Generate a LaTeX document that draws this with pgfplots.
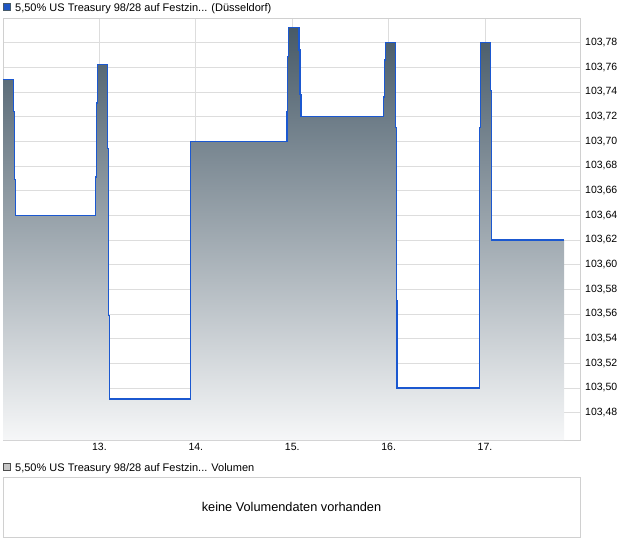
\documentclass[border=0pt]{standalone}
\usepackage{pgfplots}
\pgfplotsset{compat=1.18}
\usepackage{fontspec}
\setmainfont{Liberation Sans}
\definecolor{gridc}{HTML}{DDDDDD}
\definecolor{framec}{HTML}{D0D0D0}
\definecolor{linec}{HTML}{1B58D0}
\definecolor{topc}{HTML}{475A68}
\definecolor{botc}{HTML}{F6F7F8}
\definecolor{legblue}{HTML}{1F56C3}
\pgfplotstableread{
x y
12.000 103.75
12.107 103.724
12.119 103.669
12.127 103.64
12.959 103.671
12.969 103.731
12.979 103.762
13.085 103.694
13.091 103.559
13.102 103.491
13.943 103.70
14.946 103.724
14.955 103.769
14.964 103.792
15.070 103.774
15.081 103.738
15.091 103.72
15.943 103.736
15.953 103.766
15.964 103.78
16.069 103.711
16.080 103.571
16.086 103.50
16.940 103.571
16.946 103.711
16.957 103.78
17.060 103.741
17.070 103.62
17.819 103.62
}\pricedata
\pgfplotsset{mainframe/.style={
  at={(3bp,-18bp)}, anchor=north west,
  scale only axis, width=577bp, height=422bp,
  xmin=12, xmax=17.985,
  ymin=103.4578, ymax=103.80,
  clip=true}}
\begin{document}
\begin{tikzpicture}
\path[use as bounding box] (0,0) rectangle (620bp,-546bp);
\begin{axis}[
  mainframe,
  xtick={13,14,15,16,17},
  xticklabels={13.,14.,15.,16.,17.},
  ytick={103.48,103.50,103.52,103.54,103.56,103.58,103.60,103.62,103.64,103.66,103.68,103.70,103.72,103.74,103.76,103.78},
  yticklabel pos=right,
  grid=major,
  major grid style={gridc, line width=0.8pt},
  axis line style={framec, line width=0.8pt},
  tick style={draw=none},
  /pgf/number format/.cd, use comma, fixed, fixed zerofill, precision=2, 1000 sep={}, assume math mode=true,
  /pgfplots/.cd,
  ticklabel style={font=\fontsize{10.5bp}{12bp}\selectfont, text=black},
  xticklabel style={inner sep=0pt, anchor=north, yshift=-3bp},
  yticklabel style={inner sep=0pt, anchor=west, xshift=5bp},
]
\addplot[const plot, draw=none, top color=topc, bottom color=botc] table {\pricedata} \closedcycle;
\end{axis}
\begin{axis}[mainframe, hide axis]
\addplot[const plot, draw=linec, line width=1.2pt, mark=none] table {\pricedata};
\end{axis}
\begin{axis}[
  at={(3bp,-477bp)}, anchor=north west,
  scale only axis, width=577bp, height=60bp,
  xmin=0, xmax=1, ymin=0, ymax=1,
  ticks=none,
  axis line style={framec, line width=0.8pt},
]
\node[font=\fontsize{12.75bp}{15bp}\selectfont] at (axis cs:0.5,0.5) {keine Volumendaten vorhanden};
\end{axis}
% legends
\filldraw[fill=legblue, draw=topc, line width=0.6pt] (3.5bp,-3.5bp) rectangle (10.5bp,-10.5bp);
\node[anchor=base west, inner sep=0pt, font=\fontsize{11bp}{13bp}\selectfont] at (15bp,-11bp) {5,50\% US Treasury 98/28 auf Festzin... (Düsseldorf)};
\filldraw[fill=gray!45, draw=black!70, line width=0.6pt] (3.5bp,-463.5bp) rectangle (10.5bp,-470.5bp);
\node[anchor=base west, inner sep=0pt, font=\fontsize{11bp}{13bp}\selectfont] at (15bp,-471bp) {5,50\% US Treasury 98/28 auf Festzin... Volumen};
\end{tikzpicture}
\end{document}
